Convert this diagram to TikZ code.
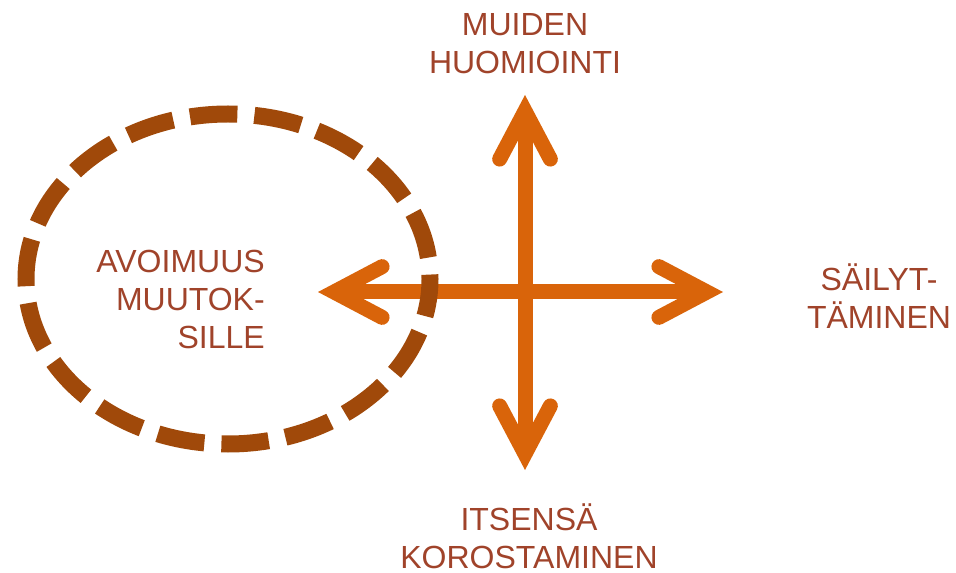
\documentclass[tikz,border=0pt]{standalone}
\usepackage{fontspec}
\setmainfont{Liberation Sans}
\usetikzlibrary{arrows.meta}
\definecolor{labelred}{HTML}{A0432A}
\definecolor{axisorange}{HTML}{D9640A}
\definecolor{ringbrown}{HTML}{A0490A}

\begin{document}
\begin{tikzpicture}[x=0.75pt,y=-0.75pt,
        >={Straight Barb[line cap=round,line join=miter,length=36pt,width=38pt]},
        label/.style={text=labelred,inner sep=0pt,align=center,
            font=\fontsize{24}{28.5}\selectfont},
        axis/.style={draw=axisorange,line width=11.25pt,<->},
        ring/.style={draw=ringbrown,line width=12.75pt,
            dash pattern=on 35.6pt off 12.8pt,dash phase=7.5pt}]
        \useasboundingbox (0,0) rectangle (956,573);
        % axis end points
        \coordinate (up) at (525,95);
        \coordinate (down) at (525,470);
        \coordinate (west) at (318,292);
        \coordinate (east) at (723,292);
        \draw [axis] (down) -- (up);
        \draw [axis] (east) -- (west);
        % dashed ring round the left end
        \draw [ring] (228,279) ellipse [x radius=202, y radius=165];
        % labels
        \node [label] (muiden) at (525,43.5) {MUIDEN\\HUOMIOINTI};
        \node [label] (itsensa) at (529,536) {ITSENSÄ\\KOROSTAMINEN};
        \node [label] (sailyt) at (879,296) {SÄILYT-\\TÄMINEN};
        \node [label,align=right,anchor=east] (avoimuus) at (265,299.5) {AVOIMUUS\\MUUTOK-\\SILLE};
    \end{tikzpicture}
\end{document}
